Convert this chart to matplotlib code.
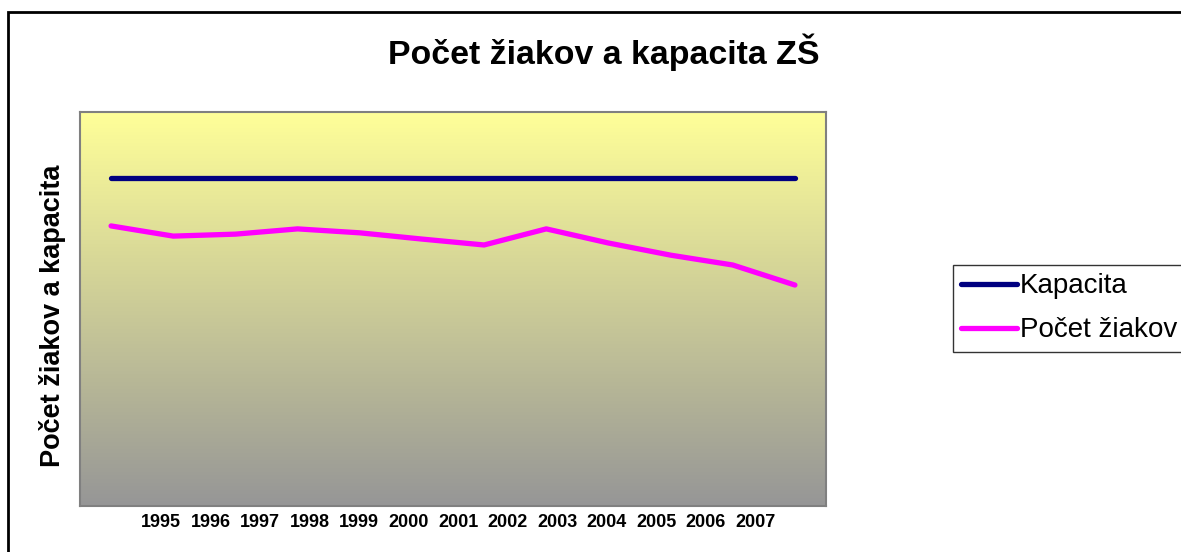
import numpy as np
import matplotlib.pyplot as plt
from matplotlib.patches import Rectangle
from matplotlib.colors import LinearSegmentedColormap

plt.rcParams["font.family"] = ["Liberation Sans", "DejaVu Sans"]

# values (y axis has no labels, scale is relative)
years = ["1995", "1996", "1997", "1998", "1999", "2000", "2001",
         "2002", "2003", "2004", "2005", "2006", "2007"]
kapacita = [1000, 1000, 1000, 1000, 1000, 1000, 1000, 1000, 1000, 1000, 1000, 1000]
pocet_ziakov = [853, 822, 828, 844, 832, 813, 795, 844, 801, 764, 734, 673]

W, H = 1181, 552
fig = plt.figure(figsize=(W / 100, H / 100), dpi=100)

# outer chart frame
fig.patches.append(Rectangle((8 / W, -0.1), 1.2, 1 - 12 / H + 0.1,
                             transform=fig.transFigure, fill=False,
                             edgecolor="black", linewidth=2, zorder=0))

left, right, top, bottom = 80, 826, 112, 506
ax = fig.add_axes([left / W, 1 - bottom / H, (right - left) / W, (bottom - top) / H])

# yellow -> grey gradient background
cmap = LinearSegmentedColormap.from_list("bg", ["#969696", "#FFFF99"])
grad = np.linspace(0, 1, 256).reshape(-1, 1)
ax.imshow(grad, cmap=cmap, aspect="auto", origin="lower",
          extent=[0, 1, 0, 1], transform=ax.transAxes, zorder=0)

x = np.arange(len(kapacita))
ax.plot(x, kapacita, color="#000080", lw=3.8, solid_capstyle="round",
        solid_joinstyle="round", label="Kapacita", zorder=3)
ax.plot(x, pocet_ziakov, color="#FF00FF", lw=3.8, solid_capstyle="round",
        solid_joinstyle="round", label="Počet žiakov", zorder=3)

ax.set_xlim(-0.5, len(kapacita) - 0.5)
ax.set_ylim(0, 1200)
ax.set_yticks([])

# year labels are spaced independently of the data points
n = len(kapacita)
pos = np.linspace(0.1086, 0.905, len(years)) * n - 0.5
ax.set_xticks(pos)
ax.set_xticklabels(years, fontsize=13, fontweight="bold")
ax.tick_params(axis="x", length=0, pad=6)

for s in ax.spines.values():
    s.set_color("#808080")
    s.set_linewidth(1.5)

fig.text(53 / W, 1 - 316 / H, "Počet žiakov a kapacita", rotation=90,
         ha="center", va="center", fontsize=19.5, fontweight="bold")
fig.text(604 / W, 1 - 52 / H, "Počet žiakov a kapacita ZŠ", ha="center", va="center",
         fontsize=24.4, fontweight="bold")

fig.legend(loc="upper left", bbox_to_anchor=(953 / W, 1 - 265 / H),
           borderaxespad=0, fontsize=20, frameon=True, fancybox=False,
           edgecolor="black", handlelength=2.0, handletextpad=0.1,
           labelspacing=0.65, borderpad=0.3)

fig.savefig("out.png", dpi=100)
